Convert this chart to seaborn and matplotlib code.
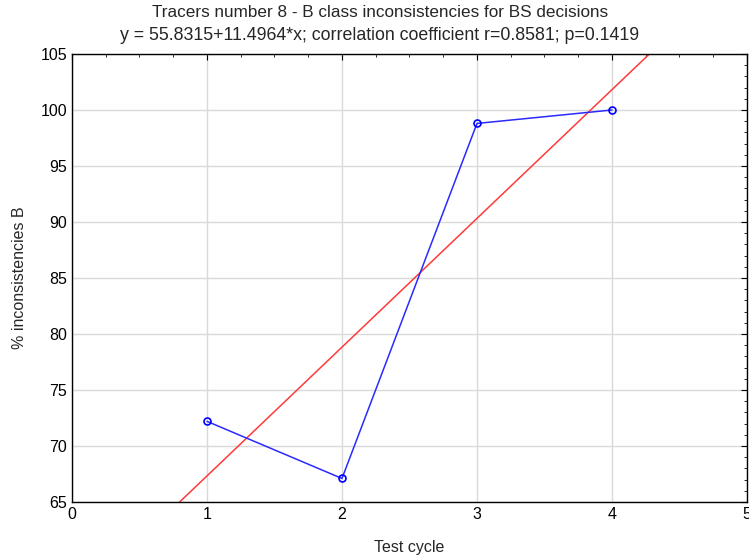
import numpy as np
import pandas as pd
import matplotlib
matplotlib.use("Agg")
import matplotlib.pyplot as plt
import seaborn as sns
from matplotlib.ticker import MultipleLocator

# dados
ciclos = [1, 2, 3, 4]
inconsistencias_b = [72.2, 67.1, 98.8, 100.0]
intercepto = 55.8315
inclinacao = 11.4964

titulo = "Tracers number 8 - B class inconsistencies for BS decisions"
subtitulo = "y = 55.8315+11.4964*x; correlation coefficient r=0.8581; p=0.1419"

sns.set_theme(style="white")
plt.rcParams["font.family"] = ["Liberation Sans", "DejaVu Sans"]

df = pd.DataFrame({"Ciclo": ciclos, "Inconsistencias": inconsistencias_b})

fig = plt.figure(figsize=(7.49, 5.59), dpi=100)
ax = fig.add_axes([0.0961, 0.102, 0.9012, 0.8014])

ax.set_xlim(0, 5)
ax.set_ylim(65, 105)
ax.grid(True, color="#d9d9d9", linewidth=1)
ax.set_axisbelow(True)

# reta de regressao
xs = np.array([0, 5])
ax.plot(xs, intercepto + inclinacao * xs, color="#ff3a3a", linewidth=1.1, zorder=2)

sns.lineplot(data=df, x="Ciclo", y="Inconsistencias", ax=ax, color="#2a2aff",
             linewidth=1.1, marker="o", markersize=5, markerfacecolor="none",
             markeredgecolor="#0000ff", markeredgewidth=1.2, zorder=3)

ax.xaxis.set_major_locator(MultipleLocator(1))
ax.xaxis.set_minor_locator(MultipleLocator(0.25))
ax.yaxis.set_major_locator(MultipleLocator(5))
ax.yaxis.set_minor_locator(MultipleLocator(1))
ax.tick_params(which="both", direction="in", top=True, right=True, labelsize=11.5,
               colors="black")
ax.tick_params(which="major", length=4, width=0.8)
ax.tick_params(which="minor", length=2.5, width=0.6)
for s in ax.spines.values():
    s.set_color("black")
    s.set_linewidth(1)

ax.set_xlabel("Test cycle", fontsize=11.5, labelpad=13)
ax.set_ylabel("% inconsistencies B", fontsize=11.5, labelpad=10)
fig.text(0.507, 0.978, titulo, ha="center", va="center", fontsize=12.3)
fig.text(0.507, 0.937, subtitulo, ha="center", va="center", fontsize=12.8)

fig.savefig("out.png", dpi=100)
